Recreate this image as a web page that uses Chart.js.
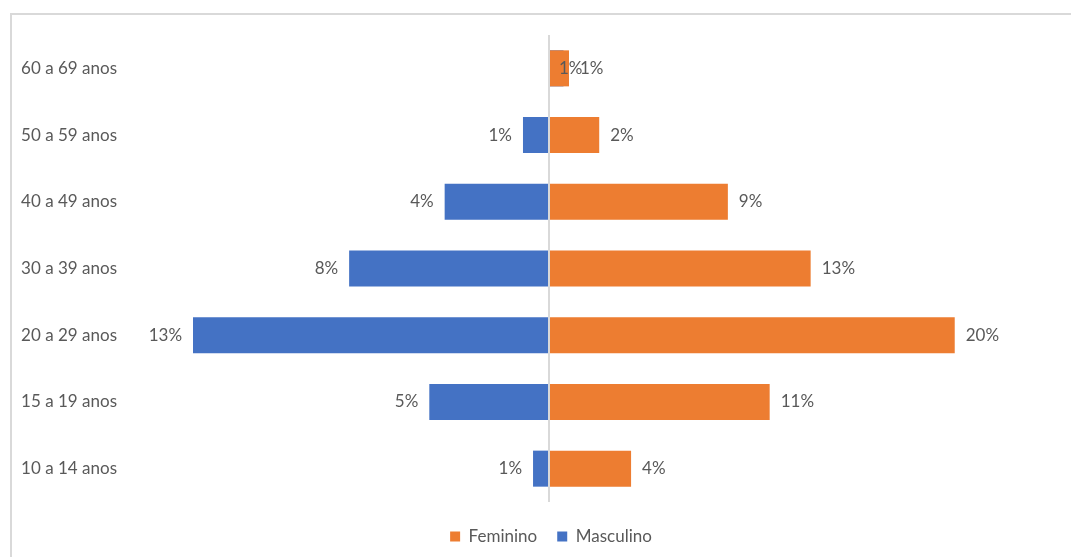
<!DOCTYPE html>
<html>
<head>
<meta charset="utf-8">
<script src="https://cdn.jsdelivr.net/npm/chart.js@4.4.1/dist/chart.umd.min.js"></script>
<style>
  html, body { margin: 0; padding: 0; background: #fff; }
  #wrap { position: relative; width: 1071px; height: 557px; overflow: hidden; }
  #frame { position: absolute; left: 10px; top: 13px; width: 1100px; height: 600px; border: 2px solid #d9d9d9; }
  #pyramid { position: absolute; left: 0; top: 0; }
</style>
</head>
<body>
<div id="wrap">
  <div id="frame"></div>
  <canvas id="pyramid" width="1071" height="555"></canvas>
</div>
<script>
const faixas = ["10 a 14 anos", "15 a 19 anos", "20 a 29 anos", "30 a 39 anos", "40 a 49 anos", "50 a 59 anos", "60 a 69 anos"];
const feminino = [4.05, 10.88, 20.0, 12.9, 8.82, 2.48, 0.99];
// masculino sits on its own axis, negative = left of the centre line
const masculino = [-0.6, -4.52, -13.45, -7.55, -3.94, -0.98, 0.55];

const textColor = "#595959";
const fontFamily = "Lato, 'Noto Sans', sans-serif";

// percentage labels next to each bar end
const barLabels = {
  id: "barLabels",
  afterDatasetsDraw(chart) {
    const ctx = chart.ctx;
    ctx.save();
    ctx.font = "17px " + fontFamily;
    ctx.fillStyle = textColor;
    ctx.textBaseline = "middle";
    chart.data.datasets.forEach((ds, di) => {
      const meta = chart.getDatasetMeta(di);
      meta.data.forEach((bar, i) => {
        const v = ds.data[i];
        const text = Math.round(Math.abs(v)) + "%";
        if (v < 0) {
          ctx.textAlign = "right";
          ctx.fillText(text, bar.x - 11, bar.y);
        } else if (ds.label === "Masculino") {
          // hidden under the Feminino bar, label starts at the axis
          ctx.textAlign = "left";
          ctx.fillText(text, bar.base + 10, bar.y);
        } else {
          ctx.textAlign = "left";
          ctx.fillText(text, bar.x + 11, bar.y);
        }
      });
    });
    ctx.restore();
  },
};

const pyramidCanvas = document.getElementById("pyramid");

new Chart(pyramidCanvas, {
  type: "bar",
  data: {
    labels: faixas,
    datasets: [
      {
        label: "Feminino",
        data: feminino,
        backgroundColor: "#ED7D31",
        xAxisID: "x",
      },
      {
        label: "Masculino",
        data: masculino,
        backgroundColor: "#4472C4",
        xAxisID: "x2",
      },
    ],
  },
  options: {
    indexAxis: "y",
    responsive: false,
    animation: false,
    barPercentage: 0.54,
    categoryPercentage: 1,
    // the plot runs a bit past the right edge so the legend sits right of centre
    layout: { padding: { top: 35, left: 20, right: -11, bottom: 0 } },
    scales: {
      y: {
        reverse: true,
        stacked: true,
        grid: { display: false, drawTicks: false },
        border: { display: false },
        ticks: {
          color: textColor,
          padding: 8,
          font: { family: fontFamily, size: 17 },
        },
        afterFit: (scale) => {
          scale.width = 105;
        },
      },
      x: {
        min: -20.89,
        max: 25.73,
        border: { display: false },
        ticks: { display: false, stepSize: 1 },
        grid: {
          z: 1,
          drawTicks: false,
          lineWidth: 2,
          color: (c) => (c.tick && c.tick.value === 0 ? "#d9d9d9" : "transparent"),
        },
        afterFit: (scale) => {
          scale.height = 6;
        },
      },
      x2: {
        display: false,
        min: -16.02,
        max: 19.73,
      },
    },
    plugins: {
      legend: {
        position: "bottom",
        labels: {
          color: textColor,
          boxWidth: 10,
          boxHeight: 10,
          padding: 20,
          font: { family: fontFamily, size: 17 },
        },
      },
      tooltip: { enabled: false },
    },
  },
  plugins: [barLabels],
});
</script>
</body>
</html>
